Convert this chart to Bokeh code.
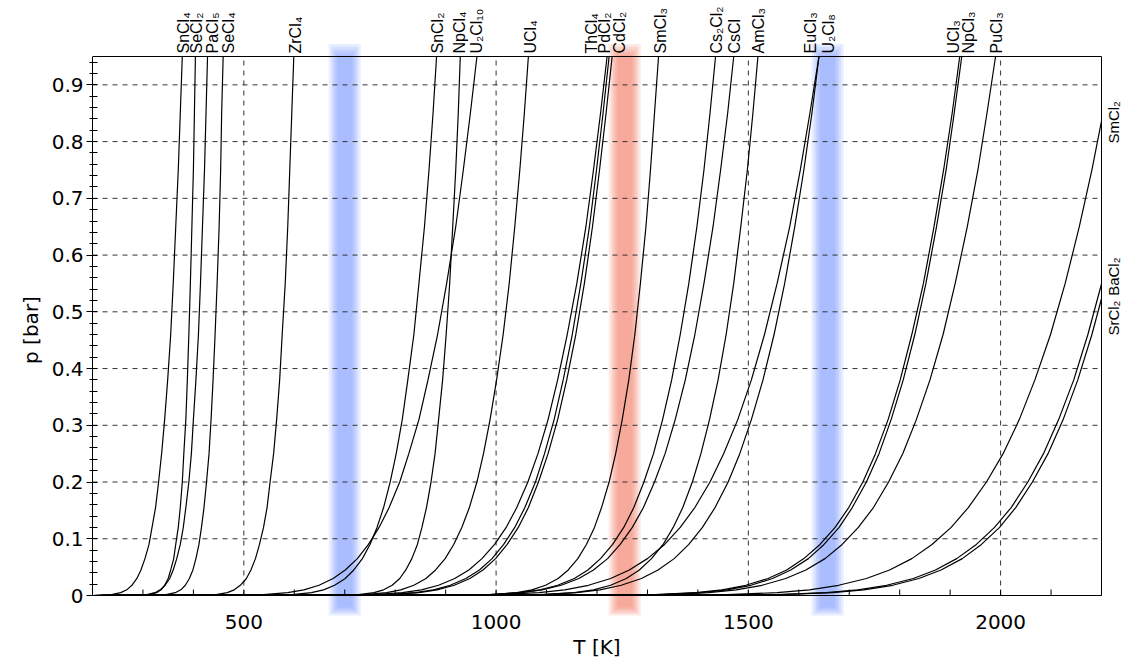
from math import pi
from bokeh.plotting import figure
from bokeh.models import Range1d, FixedTicker, LabelSet, ColumnDataSource
from bokeh.embed import file_html
from bokeh.resources import INLINE
from bokeh.core.properties import value

# vapour pressure levels (bar) and the temperature (K) at which each curve reaches them
p_levels = [0.95, 0.85, 0.75, 0.65, 0.55, 0.46, 0.38, 0.31, 0.25, 0.2,
            0.155, 0.12, 0.09, 0.065, 0.045, 0.03, 0.018, 0.01, 0.005, 0.0015]
SnCl4  = [378, 374, 370, 365, 360, 355, 349, 343, 337, 331, 325, 318, 312, 304, 296, 288, 278, 268, 256, 238]
SeCl2  = [404, 402, 400, 397, 394, 391, 388, 385, 381, 378, 374, 370, 365, 361, 355, 350, 343, 336, 327, 312]
PaCl5  = [428, 425, 422, 418, 414, 410, 405, 400, 396, 391, 385, 380, 374, 367, 360, 353, 344, 334, 324, 308]
SeCl4  = [459, 456, 454, 451, 447, 443, 439, 435, 431, 426, 421, 416, 411, 405, 399, 392, 384, 375, 364, 346]
ZrCl4  = [599, 595, 591, 587, 582, 576, 571, 565, 559, 552, 546, 539, 531, 523, 514, 505, 493, 481, 467, 445]
SnCl2  = [882, 875, 867, 858, 847, 837, 825, 814, 802, 790, 777, 764, 750, 735, 718, 701, 680, 658, 634, 596]
NpCl4  = [929, 925, 920, 914, 908, 901, 894, 886, 879, 871, 862, 853, 844, 833, 821, 809, 794, 777, 758, 727]
U2Cl10 = [962, 949, 935, 920, 902, 884, 865, 847, 827, 809, 788, 768, 747, 725, 701, 677, 649, 619, 587, 539]
UCl4   = [1064, 1056, 1047, 1037, 1026, 1014, 1001, 988, 975, 962, 947, 932, 916, 899, 880, 861, 837, 811, 783, 739]
ThCl4  = [1220, 1207, 1193, 1178, 1160, 1141, 1122, 1103, 1083, 1063, 1041, 1020, 997, 972, 946, 918, 886, 852, 814, 756]
PdCl2  = [1224, 1212, 1199, 1185, 1168, 1151, 1133, 1115, 1096, 1078, 1057, 1037, 1015, 992, 967, 940, 909, 876, 840, 783]
CdCl2  = [1230, 1218, 1205, 1191, 1175, 1158, 1140, 1122, 1103, 1084, 1064, 1044, 1022, 999, 974, 948, 917, 883, 847, 790]
SmCl3  = [1322, 1314, 1306, 1297, 1286, 1275, 1263, 1250, 1237, 1224, 1209, 1195, 1179, 1162, 1143, 1123, 1098, 1071, 1041, 993]
Cs2Cl2 = [1435, 1424, 1412, 1398, 1382, 1365, 1348, 1330, 1312, 1293, 1273, 1253, 1231, 1207, 1182, 1155, 1122, 1087, 1048, 987]
CsCl   = [1471, 1459, 1445, 1430, 1412, 1394, 1375, 1355, 1335, 1314, 1292, 1270, 1246, 1221, 1193, 1164, 1129, 1091, 1050, 986]
AmCl3  = [1519, 1509, 1498, 1485, 1471, 1456, 1440, 1423, 1406, 1389, 1370, 1351, 1331, 1308, 1284, 1258, 1227, 1193, 1155, 1094]
EuCl3  = [1640, 1622, 1603, 1582, 1557, 1532, 1506, 1479, 1451, 1424, 1394, 1365, 1334, 1300, 1264, 1227, 1183, 1136, 1085, 1006]
U2Cl8  = [1640, 1626, 1610, 1592, 1572, 1551, 1529, 1506, 1483, 1460, 1434, 1409, 1382, 1353, 1321, 1288, 1248, 1206, 1159, 1086]
UCl3   = [1919, 1904, 1887, 1868, 1847, 1824, 1801, 1777, 1752, 1727, 1699, 1672, 1642, 1610, 1576, 1539, 1495, 1448, 1396, 1314]
NpCl3  = [1923, 1908, 1892, 1873, 1852, 1830, 1807, 1783, 1759, 1734, 1706, 1680, 1650, 1619, 1584, 1548, 1505, 1458, 1406, 1324]
PuCl3  = [1990, 1973, 1955, 1934, 1910, 1886, 1860, 1833, 1806, 1778, 1748, 1718, 1686, 1652, 1614, 1574, 1527, 1476, 1421, 1335]
SmCl2  = [None, None, 2181, 2156, 2128, 2099, 2068, 2037, 2005, 1972, 1936, 1902, 1864, 1824, 1780, 1734, 1679, 1621, 1557, 1457]
BaCl2  = [None, None, None, None, None, 2173, 2145, 2115, 2085, 2054, 2021, 1988, 1952, 1913, 1871, 1827, 1774, 1717, 1654, 1555]
SrCl2  = [None, None, None, None, None, 2181, 2153, 2124, 2094, 2063, 2030, 1998, 1962, 1924, 1882, 1838, 1786, 1729, 1666, 1567]

# curves that leave through the right edge: pressure read at T = 2200 K
edge_p = {"SmCl2": 0.836, "BaCl2": 0.549, "SrCl2": 0.523}

curves = {"SnCl4": SnCl4, "SeCl2": SeCl2, "PaCl5": PaCl5, "SeCl4": SeCl4, "ZrCl4": ZrCl4,
          "SnCl2": SnCl2, "NpCl4": NpCl4, "U2Cl10": U2Cl10, "UCl4": UCl4, "ThCl4": ThCl4,
          "PdCl2": PdCl2, "CdCl2": CdCl2, "SmCl3": SmCl3, "Cs2Cl2": Cs2Cl2, "CsCl": CsCl,
          "AmCl3": AmCl3, "EuCl3": EuCl3, "U2Cl8": U2Cl8, "UCl3": UCl3, "NpCl3": NpCl3,
          "PuCl3": PuCl3, "SmCl2": SmCl2, "BaCl2": BaCl2, "SrCl2": SrCl2}

# labels along the top edge and their temperature positions
top_labels = ["SnCl₄", "SeCl₂", "PaCl₅", "SeCl₄", "ZrCl₄", "SnCl₂", "NpCl₄", "U₂Cl₁₀", "UCl₄",
              "ThCl₄", "PdCl₂", "CdCl₂", "SmCl₃", "Cs₂Cl₂", "CsCl", "AmCl₃", "EuCl₃", "U₂Cl₈",
              "UCl₃", "NpCl₃", "PuCl₃"]
top_label_T = [380, 407, 438, 469, 603, 884, 928, 962, 1069, 1190, 1214, 1244, 1325, 1436, 1472, 1520,
               1623, 1659, 1906, 1936, 1992]
right_labels = ["SmCl₂", "BaCl₂", "SrCl₂"]
right_label_p = [0.834, 0.562, 0.489]

# highlighted temperatures
band_T = [700, 1255, 1657]
band_colors = ["#6d8cff", "#f0705a", "#6d8cff"]

x_ticks = [500, 1000, 1500, 2000]
x_tick_labels = ["500", "1000", "1500", "2000"]
x_minor = [200, 300, 400, 500, 600, 700, 800, 900, 1000, 1100, 1200, 1300, 1400, 1500,
           1600, 1700, 1800, 1900, 2000, 2100, 2200]
y_ticks = [0, 0.1, 0.2, 0.3, 0.4, 0.5, 0.6, 0.7, 0.8, 0.9]
y_tick_labels = ["0", "0.1", "0.2", "0.3", "0.4", "0.5", "0.6", "0.7", "0.8", "0.9"]

# layout: frame fills the page below/above/right of the y axis; data box is T 200-2200, p 0-0.95
W, H, left, box_right, box_top, box_bottom = 1122, 659, 92, 1101, 56, 595
x0, x1, y0, y1 = 200, 2200, 0, 0.95
ppu = (box_bottom - box_top) / (y1 - y0)        # pixels per bar
kpx = (x1 - x0) / (box_right - left)            # kelvin per pixel
def dy(px):
    return px / ppu

p = figure(width=W, height=H, output_backend="svg", toolbar_location=None, x_axis_location=None,
           x_range=Range1d(x0, x0 + (W - left) * kpx),
           y_range=Range1d(y0 - dy(H - box_bottom), y0 + dy(box_bottom)),
           min_border_left=left, min_border_right=0, min_border_top=0, min_border_bottom=0)
p.outline_line_color = None
p.xgrid.visible = False
p.ygrid.visible = False

# soft highlight bands (stacked translucent strokes)
for xc, col in zip(band_T, band_colors):
    for w, top, bot in zip([32, 27, 23, 19, 15], [0.972, 0.967, 0.962, 0.957, 0.952],
                           [dy(-20), dy(-18), dy(-16), dy(-14), dy(-12)]):
        p.segment(x0=[xc], y0=[bot], x1=[xc], y1=[top], line_width=w, line_color=col, line_alpha=0.16)

# dashed grid
p.segment(x0=x_ticks, y0=[y0] * len(x_ticks), x1=x_ticks, y1=[y1] * len(x_ticks),
          line_color="#333333", line_dash="5 5", line_width=1)
p.segment(x0=[x0] * 9, y0=y_ticks[1:], x1=[x1] * 9, y1=y_ticks[1:],
          line_color="#333333", line_dash="5 5", line_width=1)

for name, Ts in curves.items():
    xs = [x0] + [t for t in reversed(Ts) if t is not None]
    ys = [0.0] + [pl for t, pl in zip(reversed(Ts), reversed(p_levels)) if t is not None]
    if name in edge_p:
        xs.append(x1)
        ys.append(edge_p[name])
    p.line(xs, ys, line_color="black", line_width=1.2)

# box: bottom axis line, top and right edges
p.line([x0, x1, x1, x0], [y0, y0, y1, y1], line_color="black", line_width=1)
# x ticks (pointing inwards)
p.segment(x0=x_minor, y0=[y0] * len(x_minor), x1=x_minor, y1=[dy(6)] * len(x_minor),
          line_color="black", line_width=1)
p.text(x=x_ticks, y=[-dy(26)] * len(x_ticks), text=x_tick_labels, text_align="center",
       text_baseline="middle", text_font=value("DejaVu Sans"), text_font_size="20px", text_color="black")
p.text(x=[(x0 + x1) / 2], y=[-dy(51)], text=["T [K]"], text_align="center",
       text_baseline="middle", text_font=value("DejaVu Sans"), text_font_size="20px", text_color="black")

src = ColumnDataSource(dict(x=top_label_T, y=[y1] * len(top_label_T), text=top_labels))
p.add_layout(LabelSet(x="x", y="y", text="text", source=src, angle=pi / 2,
                      text_align="left", text_baseline="middle", y_offset=3,
                      text_font=value("Liberation Sans"), text_font_size="16px", text_color="black"))
src2 = ColumnDataSource(dict(x=[x1] * len(right_labels), y=right_label_p, text=right_labels))
p.add_layout(LabelSet(x="x", y="y", text="text", source=src2, angle=pi / 2,
                      text_align="center", text_baseline="middle", x_offset=12,
                      text_font=value("Liberation Sans"), text_font_size="15px", text_color="black"))

p.yaxis.bounds = (y0, y1)
p.yaxis.ticker = FixedTicker(ticks=y_ticks, minor_ticks=[round(0.02 * i, 2) for i in range(48)])
p.yaxis.major_label_overrides = dict(zip(y_ticks, y_tick_labels))
p.yaxis.major_tick_in = 0; p.yaxis.major_tick_out = 6
p.yaxis.minor_tick_in = 5; p.yaxis.minor_tick_out = 3
ax = p.yaxis[0]
ax.axis_line_color = "black"
ax.major_tick_line_color = "black"
ax.minor_tick_line_color = "black"
ax.major_label_text_font = "DejaVu Sans"
ax.major_label_text_font_size = "20px"
ax.major_label_text_color = "black"
ax.axis_label_text_font = "DejaVu Sans"
ax.axis_label_text_font_size = "20px"
ax.axis_label_text_font_style = "normal"
ax.axis_label_text_color = "black"
ax.axis_label = "p [bar]"
ax.major_label_standoff = 3
ax.axis_label_standoff = 6

open("out.html", "w").write(file_html(p, INLINE))
